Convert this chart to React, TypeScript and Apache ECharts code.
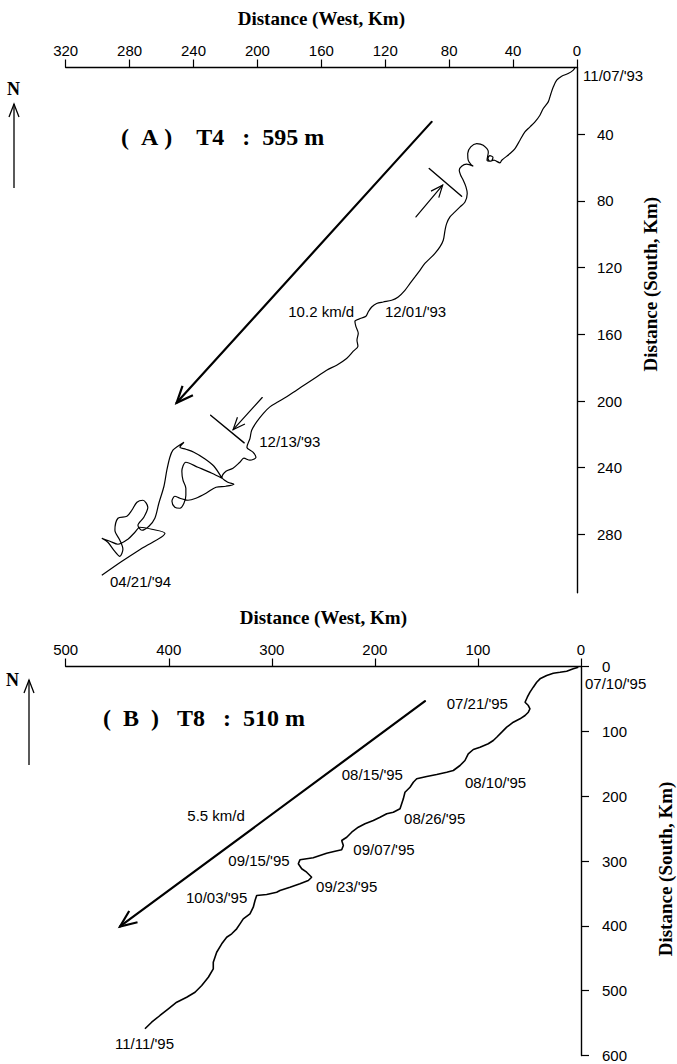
import React, { useEffect, useRef } from "react";
import * as echarts from "echarts";

// ---------- Axis ticks ----------
const X_TICKS_A = [0, 40, 80, 120, 160, 200, 240, 280, 320];
const Y_TICKS_A = [40, 80, 120, 160, 200, 240, 280];
const X_TICKS_B = [0, 100, 200, 300, 400, 500];
const Y_TICKS_B = [0, 100, 200, 300, 400, 500, 600];

// ---------- Panel A track (West km, South km) ----------
const TRACK_A: number[][] = [
  [1.25, 0], [2.3, 1.6], [5.5, 3.6], [9.6, 5.2], [12.7, 7.6], [14.8, 11.6], [16.3, 15.6],
  [18.0, 20.6], [21.1, 24.6], [23.2, 28.6], [26.3, 32.6], [29.4, 35.6], [32.6, 38.6],
  [35.7, 43.6], [38.8, 48.6], [41.9, 51.6], [47.1, 55.6], [48.2, 57.2], [52.0, 55.6],
  [54.5, 56.2], [55.7, 54.4], [54.5, 52.9], [52.6, 53.8], [53.8, 56.2], [56.3, 55.6],
  [55.5, 50.6], [58.7, 46.6], [62.8, 45.6], [66.5, 47.6], [68.4, 51.6], [68.1, 55.6],
  [65.9, 58.6], [64.9, 59.2], [69.1, 58.0], [72.2, 59.2], [73.7, 61.6], [72.8, 64.6],
  [71.2, 67.6], [69.5, 71.6], [68.7, 75.6], [70.1, 80.6], [73.2, 83.6], [76.4, 86.6],
  [79.5, 89.6], [81.6, 93.6], [82.6, 97.6], [83.7, 103.6], [85.8, 107.6], [88.9, 111.5],
  [92.0, 114.5], [95.2, 117.5], [98.3, 121.6], [101.4, 125.6], [104.5, 129.5],
  [107.7, 133.6], [111.9, 137.6], [116.0, 139.6], [121.3, 140.6], [125.4, 141.5],
  [128.5, 143.6], [130.7, 146.6], [132.1, 149.2], [135.2, 150.4], [139.0, 152.2],
  [138.4, 155.2], [136.9, 159.3], [137.7, 163.5], [137.1, 167.1], [140.0, 170.1],
  [144.2, 174.5], [150.4, 178.5], [156.7, 181.5], [163.0, 185.6], [169.2, 189.5],
  [175.5, 193.5], [181.7, 197.5], [187.0, 200.5], [192.2, 203.5], [196.4, 207.5],
  [200.5, 212.5], [203.6, 217.5], [204.7, 222.5], [206.6, 227.7], [202.8, 230.7],
  [200.9, 233.7], [204.7, 235.5], [208.5, 234.3], [211.0, 236.7], [215.3, 240.3],
  [219.7, 242.1], [222.2, 245.7], [218.5, 248.7], [214.7, 249.9], [219.7, 251.1],
  [225.9, 251.7], [232.2, 255.3], [238.5, 258.3], [243.5, 259.5], [248.5, 258.3],
  [251.7, 257.1], [253.5, 260.1], [251.7, 263.7], [248.5, 264.3], [246.0, 261.3],
  [244.8, 256.5], [244.8, 252.3], [246.6, 247.5], [247.3, 242.1], [244.8, 236.7],
  [237.3, 239.7], [228.5, 243.3], [222.2, 246.3], [227.2, 239.1], [233.5, 234.3],
  [239.8, 230.7], [244.8, 228.9], [248.5, 227.7], [246.0, 224.7], [249.8, 227.1],
  [252.9, 229.5], [254.8, 233.7], [256.7, 241.5], [258.5, 251.1], [261.7, 261.3],
  [264.2, 270.3], [267.9, 275.1], [272.3, 277.5], [274.8, 274.5], [271.1, 269.7],
  [268.6, 263.7], [271.7, 259.5], [275.4, 260.7], [278.6, 265.5], [281.7, 269.1],
  [287.3, 270.3], [289.2, 277.5], [286.1, 283.5], [284.2, 288.9], [286.1, 293.1],
  [289.8, 289.5], [293.6, 284.7], [297.4, 282.3], [292.3, 284.1], [287.3, 285.9],
  [281.1, 282.9], [276.7, 278.7], [273.6, 275.7], [266.1, 276.9], [257.9, 279.3],
  [272.3, 288.3], [284.8, 296.1], [297.4, 304.5],
];

// ---------- Panel B track (West km, South km) ----------
const TRACK_B: number[][] = [
  [2.6, 1.1], [7.5, 3.5], [13.9, 7.2], [20.4, 8.8], [26.9, 10.3], [33.3, 13.9],
  [39.8, 19.0], [43.0, 24.2], [46.3, 31.9], [49.5, 39.6], [52.1, 47.4], [54.3, 55.1],
  [51.1, 60.2], [49.5, 65.2], [51.1, 70.5], [54.3, 75.6], [59.2, 80.7], [65.7, 85.9],
  [72.1, 93.6], [76.9, 101.3], [81.8, 109.1], [85.1, 114.2], [90.0, 119.2], [98.0, 124.5],
  [104.5, 128.0], [109.4, 134.7], [112.6, 145.0], [117.4, 152.7], [123.9, 160.4],
  [130.3, 163.0], [140.0, 166.6], [149.7, 169.7], [159.4, 173.2], [162.7, 178.5],
  [165.9, 186.2], [170.8, 193.9], [172.4, 204.1], [174.0, 211.8], [175.6, 219.5],
  [182.1, 224.7], [188.5, 227.2], [195.0, 232.5], [201.5, 237.5], [209.6, 242.6],
  [216.1, 247.9], [222.5, 255.6], [227.3, 263.3], [232.2, 268.4], [230.6, 276.1],
  [232.2, 282.7], [238.7, 284.9], [246.8, 288.0], [253.3, 291.5], [259.8, 295.1],
  [266.2, 296.6], [272.7, 298.2], [274.3, 304.3], [271.0, 312.0], [266.2, 317.3],
  [261.3, 325.0], [264.6, 330.1], [272.7, 335.2], [282.4, 340.4], [292.1, 345.5],
  [295.3, 348.1], [305.0, 351.7], [314.7, 353.2], [316.3, 360.9], [318.0, 371.3],
  [321.2, 381.5], [327.7, 389.2], [330.9, 396.9], [334.1, 404.6], [338.9, 412.3],
  [343.8, 417.6], [348.6, 427.7], [353.5, 440.7], [356.8, 456.1], [356.8, 466.3],
  [361.6, 479.3], [368.0, 492.1], [374.5, 502.4], [382.6, 510.1], [392.3, 517.8],
  [400.4, 528.0], [408.5, 538.3], [416.6, 548.7], [423.1, 558.8],
];

// ---------- Annotations: [fromX, fromY, toX, toY] in km ----------
const SPEED_ARROW_A = [[91.0, 32.6, 250.6, 201.1]];
const MARK_ARROWS_A = [[100.8, 89.6, 84.1, 70.6], [197.0, 197.9, 215.2, 217.1]];
const MARK_BARS_A = [[92.5, 60.6, 72.2, 77.2], [229.3, 208.5, 208.3, 225.1]];
const SPEED_ARROW_B = [[151.4, 53.5, 447.3, 401.0]];

// ---------- Date / speed labels (text, West km, South km) ----------
const LABEL_TEXT_A = ["11/07/'93", "12/01/'93", "12/13/'93", "04/21/'94", "10.2 km/d"];
const LABEL_POS_A = [[-3.8, 4.6], [120.2, 146.6], [198.9, 224.5], [292.3, 308.5], [180.7, 146.6]];
const LABEL_TEXT_B = [
  "07/10/'95", "07/21/'95", "08/15/'95", "08/10/'95", "08/26/'95", "09/07/'95",
  "09/15/'95", "09/23/'95", "10/03/'95", "11/11/'95", "5.5 km/d",
];
const LABEL_POS_B = [
  [-3.9, 26.5], [130.3, 57.5], [232.2, 166.6], [112.6, 179.4], [171.7, 234.9], [220.9, 282.7],
  [342.2, 299.2], [257.1, 338.6], [383.3, 356.8], [452.2, 582.0], [382.0, 229.8],
];

const SANS = "'Liberation Sans', Arial, Helvetica, sans-serif";
const SERIF = "'Liberation Serif', 'Times New Roman', serif";
const NB = "\u00a0";

function arrowRenderer(headLen: number, width: number, withHead: boolean) {
  return (_params: any, api: any) => {
    const p1 = api.coord([api.value(0), api.value(1)]);
    const p2 = api.coord([api.value(2), api.value(3)]);
    const children: any[] = [
      {
        type: "line",
        shape: { x1: p1[0], y1: p1[1], x2: p2[0], y2: p2[1] },
        style: { stroke: "#000", lineWidth: width, lineCap: "round" },
      },
    ];
    if (withHead) {
      const ang = Math.atan2(p1[1] - p2[1], p1[0] - p2[0]);
      const a = 0.4;
      children.push({
        type: "polyline",
        shape: {
          points: [
            [p2[0] + headLen * Math.cos(ang + a), p2[1] + headLen * Math.sin(ang + a)],
            [p2[0], p2[1]],
            [p2[0] + headLen * Math.cos(ang - a), p2[1] + headLen * Math.sin(ang - a)],
          ],
        },
        style: { stroke: "#000", fill: null, lineWidth: width, lineJoin: "miter" },
      });
    }
    return { type: "group", children };
  };
}

const TICK_TEXT = {
  fontFamily: SANS,
  fontSize: 15,
  color: "#000",
};

function xAxisCfg(gridIndex: number, max: number, interval: number, ticks: number[], margin: number) {
  return {
    type: "value",
    gridIndex,
    min: 0,
    max,
    interval,
    inverse: true,
    position: "top",
    name: "Distance (West, Km)",
    nameLocation: "middle",
    nameGap: 40,
    nameTextStyle: { fontFamily: SERIF, fontWeight: "bold", fontSize: 19, color: "#000" },
    axisLine: { show: true, onZero: false, lineStyle: { color: "#000", width: 1.4 } },
    axisTick: { show: true, inside: false, length: 8, customValues: ticks, lineStyle: { color: "#000", width: 1.2 } },
    axisLabel: { show: true, margin, customValues: ticks, ...TICK_TEXT },
    splitLine: { show: false },
  };
}

function yAxisCfg(gridIndex: number, max: number, ticks: number[], margin: number, nameGap: number, shift: number) {
  return {
    type: "value",
    gridIndex,
    min: 0,
    max,
    inverse: true,
    position: "right",
    name: "Distance (South, Km)",
    nameLocation: "middle",
    nameGap,
    nameTextStyle: {
      fontFamily: SERIF,
      fontWeight: "bold",
      fontSize: 19,
      color: "#000",
      padding: shift > 0 ? [0, 0, 0, shift] : [0, -shift, 0, 0],
    },
    axisLine: { show: true, onZero: false, lineStyle: { color: "#000", width: 1.4 } },
    axisTick: { show: true, inside: false, length: 8, customValues: ticks, lineStyle: { color: "#000", width: 1.2 } },
    axisLabel: { show: true, margin, customValues: ticks, ...TICK_TEXT },
    splitLine: { show: false },
  };
}

function labelSeries(pos: number[][], texts: string[], xi: number) {
  return {
    type: "custom",
    xAxisIndex: xi,
    yAxisIndex: xi,
    data: pos,
    clip: false,
    silent: true,
    encode: { x: 0, y: 1 },
    renderItem: (params: any, api: any) => {
      const p = api.coord([api.value(0), api.value(1)]);
      return {
        type: "text",
        x: p[0],
        y: p[1],
        style: {
          text: texts[params.dataIndex],
          fontFamily: SANS,
          fontSize: 15,
          fill: "#000",
          align: "left",
          verticalAlign: "middle",
        },
      };
    },
  };
}

function customSeries(data: number[][], xi: number, headLen: number, width: number, withHead: boolean) {
  return {
    type: "custom",
    xAxisIndex: xi,
    yAxisIndex: xi,
    data,
    clip: false,
    silent: true,
    encode: { x: [0, 2], y: [1, 3] },
    renderItem: arrowRenderer(headLen, width, withHead),
  };
}

function northArrow(nx: number, ny: number, ax: number, top: number, bottom: number) {
  return [
    {
      type: "text",
      x: nx,
      y: ny,
      style: { text: "N", fontFamily: SERIF, fontWeight: "bold", fontSize: 18, fill: "#000", align: "center", verticalAlign: "middle" },
    },
    { type: "line", shape: { x1: ax, y1: bottom, x2: ax, y2: top }, style: { stroke: "#000", lineWidth: 1.3 } },
    {
      type: "polyline",
      shape: { points: [[ax - 5, top + 13], [ax, top], [ax + 5, top + 13]] },
      style: { stroke: "#000", fill: null, lineWidth: 1.3 },
    },
  ];
}

function heading(text: string, x: number, y: number) {
  return {
    type: "text",
    x,
    y,
    style: { text, fontFamily: SERIF, fontWeight: "bold", fontSize: 24, fill: "#000", align: "left", verticalAlign: "middle" },
  };
}

export default function App() {
  const ref = useRef<HTMLDivElement>(null);
  useEffect(() => {
    if (!ref.current) return;
    const chart = echarts.init(ref.current, undefined, { renderer: "svg" });
    const option: any = {
      animation: false,
      backgroundColor: "#fff",
      grid: [
        { left: 65.7, top: 67.5, width: 511.3, height: 525.3, containLabel: false, outerBoundsMode: "none" },
        { left: 65.7, top: 666.5, width: 515.3, height: 389, containLabel: false, outerBoundsMode: "none" },
      ],
      xAxis: [xAxisCfg(0, 320, 40, X_TICKS_A, 10), xAxisCfg(1, 500, 100, X_TICKS_B, 10)],
      yAxis: [yAxisCfg(0, 315, Y_TICKS_A, 20, 64, 92), yAxisCfg(1, 600, Y_TICKS_B, 21, 75, -16)],
      series: [
        {
          type: "line",
          xAxisIndex: 0,
          yAxisIndex: 0,
          data: TRACK_A,
          showSymbol: false,
          smooth: 0.3,
          clip: false,
          lineStyle: { color: "#000", width: 1.2 },
          silent: true,
        },
        {
          type: "line",
          xAxisIndex: 1,
          yAxisIndex: 1,
          data: TRACK_B,
          showSymbol: false,
          smooth: false,
          clip: false,
          lineStyle: { color: "#000", width: 1.6 },
          silent: true,
        },
        customSeries(SPEED_ARROW_A, 0, 18, 2.2, true),
        customSeries(MARK_ARROWS_A, 0, 13, 1.2, true),
        customSeries(MARK_BARS_A, 0, 0, 1.4, false),
        customSeries(SPEED_ARROW_B, 1, 18, 2.2, true),
        labelSeries(LABEL_POS_A, LABEL_TEXT_A, 0),
        labelSeries(LABEL_POS_B, LABEL_TEXT_B, 1),
      ],
      graphic: [
        ...northArrow(13.5, 89, 14, 104, 188),
        ...northArrow(12.5, 680, 29, 680, 765),
        heading(`(${NB}${NB}A${NB})${NB}${NB}${NB}${NB}T4${NB}${NB}${NB}:${NB}${NB}595${NB}m`, 121, 137),
        heading(`(${NB}${NB}B${NB}${NB})${NB}${NB}${NB}T8${NB}${NB}${NB}:${NB}${NB}510${NB}m`, 103, 718),
      ],
    };
    chart.setOption(option);
    return () => chart.dispose();
  }, []);
  return (
    <div
      ref={ref}
      style={{ position: "fixed", left: 0, top: 0, width: 677, height: 1064, background: "#fff" }}
    />
  );
}
